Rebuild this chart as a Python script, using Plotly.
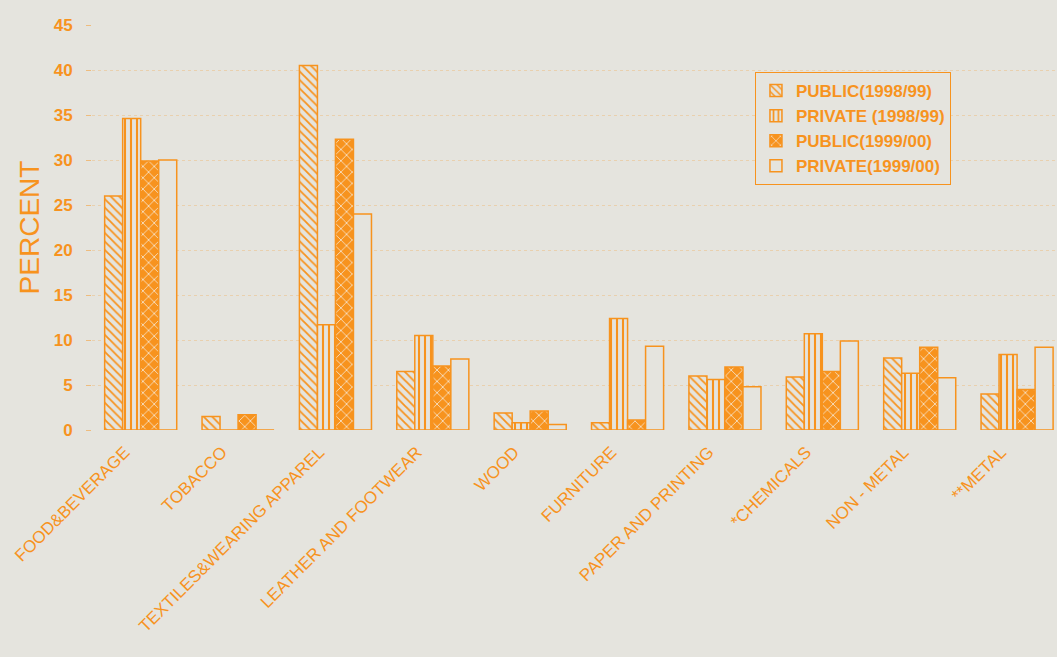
import plotly.graph_objects as go

categories = ["FOOD&BEVERAGE", "TOBACCO", "TEXTILES&WEARING APPAREL", "LEATHER AND FOOTWEAR",
              "WOOD", "FURNITURE", "PAPER AND PRINTING", "*CHEMICALS", "NON - METAL", "**METAL"]
public_9899 = [26.0, 1.5, 40.5, 6.5, 1.9, 0.8, 6.0, 5.9, 8.0, 4.0]
private_9899 = [34.6, 0.0, 11.7, 10.5, 0.8, 12.4, 5.6, 10.7, 6.3, 8.4]
public_9900 = [29.9, 1.7, 32.3, 7.1, 2.1, 1.1, 7.0, 6.5, 9.2, 4.5]
private_9900 = [30.0, 0.0, 24.0, 7.9, 0.6, 9.3, 4.8, 9.9, 5.8, 9.2]
series_names = ["PUBLIC(1998/99)", "PRIVATE (1998/99)", "PUBLIC(1999/00)", "PRIVATE(1999/00)"]
y_ticks = [0, 5, 10, 15, 20, 25, 30, 35, 40, 45]

ORANGE = "#f7931e"
BG = "#e5e4de"
x_idx = list(range(len(categories)))

fig = go.Figure()
styles = [
    dict(shape="\\", bgcolor=BG, fgcolor=ORANGE, size=6, solidity=0.3),
    dict(shape="|", bgcolor=BG, fgcolor=ORANGE, size=6, solidity=0.35),
    dict(shape="x", bgcolor=ORANGE, fgcolor="#f6e3cc", size=8, solidity=0.2),
    dict(shape="", bgcolor=BG, fgcolor=ORANGE),
]
for name, vals, st in zip(series_names, [public_9899, private_9899, public_9900, private_9900], styles):
    fig.add_trace(go.Bar(
        x=x_idx, y=vals, name=name,
        marker=dict(color=BG, line=dict(color=ORANGE, width=1.5),
                    pattern=dict(fillmode="replace", **st)),
    ))

fig.update_layout(
    width=1057, height=657,
    paper_bgcolor=BG, plot_bgcolor=BG,
    margin=dict(l=92, r=0, t=25, b=227, autoexpand=False),
    barmode="group", bargap=0.26, bargroupgap=0,
    font=dict(family="Liberation Sans, Arial, sans-serif", color=ORANGE),
    showlegend=True,
    legend=dict(
        x=0.687, y=0.884, xanchor="left", yanchor="top",
        bgcolor=BG, bordercolor=ORANGE, borderwidth=1,
        font=dict(size=17, color=ORANGE, weight="bold"),
        itemwidth=30, tracegroupgap=0,
    ),
    xaxis=dict(
        tickmode="array", tickvals=x_idx, ticktext=categories,
        tickangle=-45, tickfont=dict(size=17, color=ORANGE),
        ticklabelshift=-16, ticklabelstandoff=8,
        range=[-0.5, 9.41], showgrid=False, zeroline=False, showline=False,
        ticks="", automargin=False,
    ),
    yaxis=dict(
        range=[0, 45], tickvals=y_ticks,
        tickfont=dict(size=17, color=ORANGE, weight="bold"),
        showgrid=True, gridcolor="rgba(247,147,30,0.25)", griddash="dot", gridwidth=1,
        zeroline=False, showline=False,
        ticks="outside", ticklen=5, tickcolor="rgba(247,147,30,0.5)",
        ticklabelstandoff=10, automargin=False,
        title=dict(text="PERCENT", font=dict(size=28, color=ORANGE), standoff=5),
    ),
)

fig.write_html("out.html", post_script="document.body.style.margin='0px';",
               config={"displayModeBar": False})
